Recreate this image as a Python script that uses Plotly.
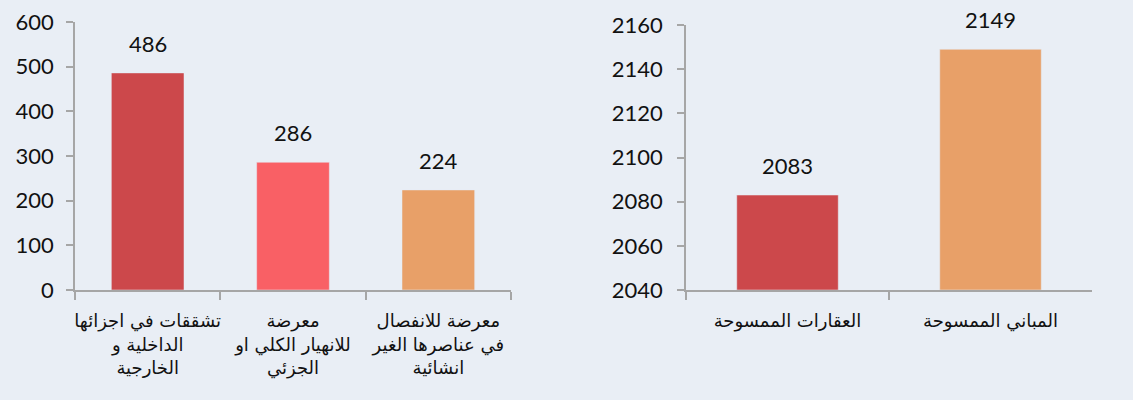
import plotly.graph_objects as go

# Left chart data
left_categories = [
    "تشققات في اجزائها<br>الداخلية و<br>الخارجية",
    "معرضة<br>للانهيار الكلي او<br>الجزئي",
    "معرضة للانفصال<br>في عناصرها الغير<br>انشائية",
]
left_values = [486, 286, 224]
left_colors = ["#CC484B", "#F96065", "#E8A068"]

# Right chart data
right_categories = ["العقارات الممسوحة", "المباني الممسوحة"]
right_values = [2083, 2149]
right_colors = ["#CC484B", "#E8A068"]
right_base = 2040

FONT = "Lato, 'DejaVu Sans', sans-serif"
AR_FONT = "'DejaVu Sans', Lato, sans-serif"
BG = "#E9EEF5"
AXIS_COLOR = "#A6A6A6"
NUM_SIZE = 22

fig = go.Figure()
fig.add_trace(go.Bar(x=left_categories, y=left_values, marker_color=left_colors,
                     width=0.5, xaxis="x", yaxis="y", showlegend=False))
fig.add_trace(go.Bar(x=right_categories, y=[v - right_base for v in right_values], base=right_base,
                     marker_color=right_colors, width=0.5, xaxis="x2", yaxis="y2", showlegend=False))

annotations = []
for c, v in zip(left_categories, left_values):
    annotations.append(dict(x=c, y=v, xref="x", yref="y", text=str(v), showarrow=False,
                            yanchor="bottom", yshift=14, font=dict(family=FONT, size=NUM_SIZE, color="#111")))
for c, v in zip(right_categories, right_values):
    annotations.append(dict(x=c, y=v, xref="x2", yref="y2", text=str(v), showarrow=False,
                            yanchor="bottom", yshift=14, font=dict(family=FONT, size=NUM_SIZE, color="#111")))

axis_common = dict(showline=True, linecolor=AXIS_COLOR, linewidth=1.5, showgrid=False,
                   zeroline=False, ticks="outside", tickcolor=AXIS_COLOR, tickwidth=1.5,
                   automargin=False)

fig.update_layout(
    width=1133, height=400,
    margin=dict(l=0, r=0, t=0, b=0),
    paper_bgcolor=BG, plot_bgcolor="rgba(0,0,0,0)",
    annotations=annotations,
    xaxis=dict(domain=[75/1133, 511/1133], anchor="y", tickson="boundaries", ticklen=8,
               tickangle=0, ticklabelstandoff=14,
               tickfont=dict(family=AR_FONT, size=18, color="#111"), **axis_common),
    yaxis=dict(domain=[(400-290)/400, (400-22)/400], anchor="x", range=[0, 600], dtick=100,
               ticklen=7, ticklabelstandoff=8,
               tickfont=dict(family=FONT, size=NUM_SIZE, color="#111"), **axis_common),
    xaxis2=dict(domain=[686/1133, 1092/1133], anchor="y2", tickson="boundaries", ticklen=8,
                tickangle=0, ticklabelstandoff=14,
                tickfont=dict(family=AR_FONT, size=18, color="#111"), **axis_common),
    yaxis2=dict(domain=[(400-290)/400, (400-25)/400], anchor="x2", range=[2040, 2160], dtick=20,
                ticklen=7, ticklabelstandoff=10,
                tickfont=dict(family=FONT, size=NUM_SIZE, color="#111"), **axis_common),
)

fig.write_html("out.html", config={"displayModeBar": False},
               post_script="document.body.style.margin='0';")
